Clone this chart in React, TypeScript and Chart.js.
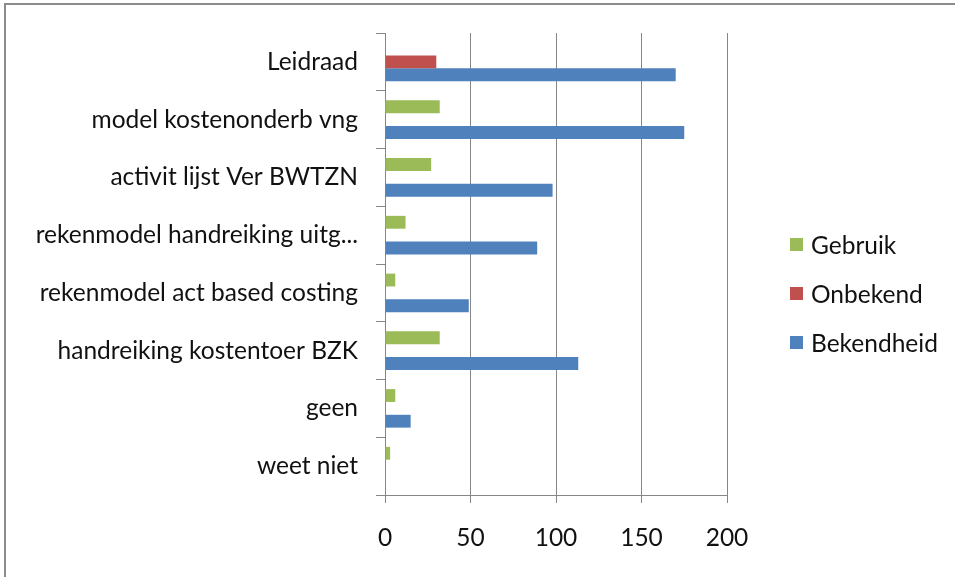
import React, { useEffect, useRef } from "react";
import { Chart, registerables } from "chart.js";

Chart.register(...registerables);

const categories = [
  "Leidraad",
  "model kostenonderb vng",
  "activit lijst Ver BWTZN",
  "rekenmodel handreiking uitg...",
  "rekenmodel act based costing",
  "handreiking kostentoer BZK",
  "geen",
  "weet niet",
];
const gebruik = [null, 32, 27, 12, 6, 32, 6, 3];
const onbekend = [30, null, null, null, null, null, null, null];
const bekendheid = [170, 175, 98, 89, 49, 113, 15, null];
const seriesNames = ["Gebruik", "Onbekend", "Bekendheid"];
const seriesColors = ["#9BBB59", "#C0504D", "#4F81BD"];
const xMin = 0;
const xMax = 200;
const xStep = 50;

const FONT = "Lato";
const FONT_SIZE = 24.5;
const TEXT = "#111111";
const GRID = "#868686";

export default function App() {
  const ref = useRef<HTMLCanvasElement | null>(null);

  useEffect(() => {
    if (!ref.current) return;
    const seriesData = [gebruik, onbekend, bekendheid];
    const chart = new Chart(ref.current, {
      type: "bar",
      data: {
        labels: categories,
        datasets: seriesNames.map((name, i) => ({
          label: name,
          data: seriesData[i] as any,
          backgroundColor: seriesColors[i],
          borderWidth: 0,
          categoryPercentage: 0.667,
          barPercentage: 1.0,
        })),
      },
      options: {
        indexAxis: "y",
        responsive: false,
        animation: false,
        layout: { padding: { top: 33, right: 228, left: 0, bottom: 0 } },
        plugins: { legend: { display: false }, tooltip: { enabled: false } },
        scales: {
          x: {
            min: xMin,
            max: xMax,
            ticks: {
              stepSize: xStep,
              color: TEXT,
              font: { family: FONT, size: FONT_SIZE },
              padding: 20,
            },
            grid: { color: GRID, tickLength: 8, lineWidth: 1 },
            border: { color: GRID },
            afterFit: (s: any) => {
              s.height = 82;
            },
          },
          y: {
            grid: {
              display: true,
              drawOnChartArea: false,
              offset: true,
              tickLength: 9,
              color: GRID,
            },
            border: { color: GRID },
            ticks: {
              color: TEXT,
              font: { family: FONT, size: FONT_SIZE },
              padding: 18,
              autoSkip: false,
            },
            afterFit: (s: any) => {
              s.width = 385;
            },
          },
        },
      },
    });
    return () => chart.destroy();
  }, []);

  return (
    <div
      style={{
        position: "absolute",
        left: 0,
        top: 0,
        width: 955,
        height: 577,
        overflow: "hidden",
        background: "#fff",
      }}
    >
      <div
        style={{
          position: "absolute",
          left: 4,
          top: 3,
          width: 1100,
          height: 800,
          border: "2px solid #8c8c8c",
        }}
      />
      <canvas
        ref={ref}
        width={955}
        height={577}
        style={{ position: "absolute", left: 0, top: 0, width: 955, height: 577 }}
      />
      {seriesNames.map((name, i) => (
        <div
          key={name}
          style={{
            position: "absolute",
            left: 790,
            top: 244 + i * 49 - 15,
            height: 30,
            display: "flex",
            alignItems: "center",
            fontFamily: FONT,
            fontSize: FONT_SIZE,
            color: TEXT,
            whiteSpace: "nowrap",
          }}
        >
          <span
            style={{
              display: "inline-block",
              width: 13,
              height: 13,
              background: seriesColors[i],
              marginRight: 8,
            }}
          />
          {name}
        </div>
      ))}
    </div>
  );
}
